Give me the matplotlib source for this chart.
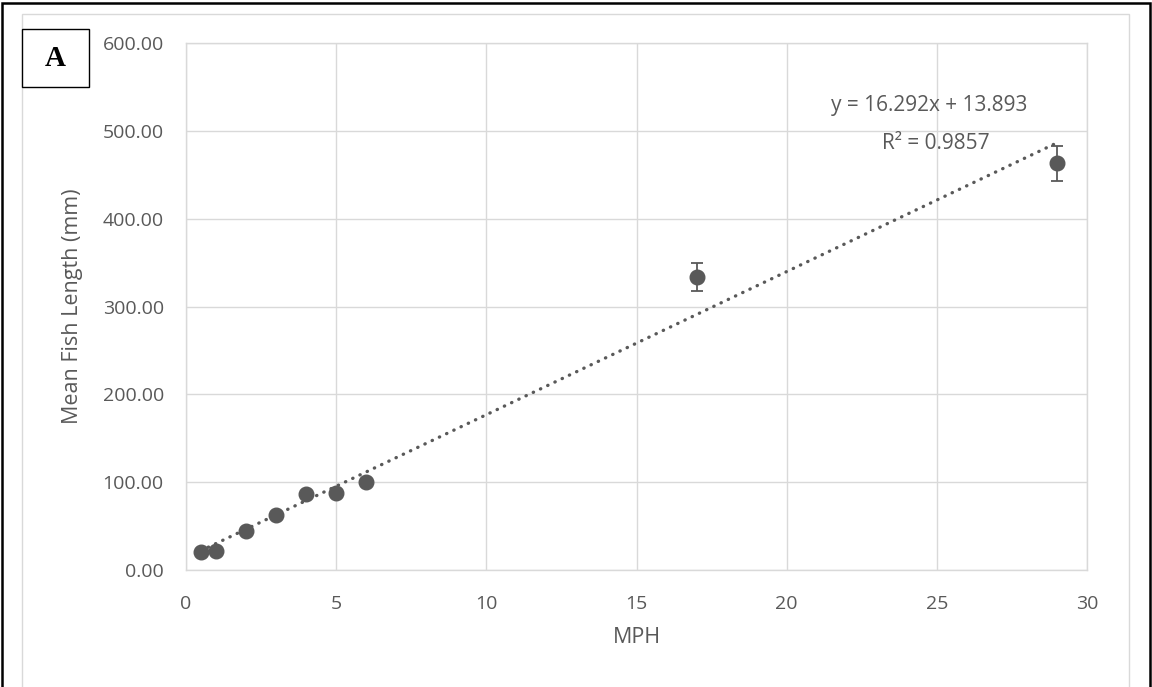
import numpy as np
import matplotlib
matplotlib.use("Agg")
import matplotlib.pyplot as plt
from matplotlib.patches import Rectangle

# data
mph = [0.5, 1, 2, 3, 4, 5, 6, 17, 29]
fish_len = [21, 22, 44, 63, 87, 88, 100, 334, 463]
fish_err = [0, 0, 0, 0, 0, 0, 0, 16, 20]
slope, intercept = 16.292, 13.893
r2 = 0.9857
x_ticks = [0, 5, 10, 15, 20, 25, 30]
y_ticks = [0, 100, 200, 300, 400, 500, 600]

W, H = 1152, 687
grey = "#595959"
grid = "#d9d9d9"
plt.rcParams["font.family"] = ["Open Sans", "DejaVu Sans"]

fig = plt.figure(figsize=(W / 100, H / 100), dpi=100)

# frames round the chart
fig.add_artist(Rectangle((1.5 / W, -0.02), 1148.5 / W, 1 - 3 / H + 0.02,
                         transform=fig.transFigure, fill=False,
                         edgecolor="black", lw=1.8))
fig.add_artist(Rectangle((22 / W, -0.02), (1129 - 22) / W, 1 - 14 / H + 0.02,
                         transform=fig.transFigure, fill=False,
                         edgecolor=grid, lw=1.0))

ax = fig.add_axes([186 / W, 1 - 570 / H, (1087 - 186) / W, (570 - 43) / H])
ax.set_xlim(0, 30)
ax.set_ylim(0, 600)
ax.set_xticks(x_ticks)
ax.set_yticks(y_ticks)
ax.yaxis.set_major_formatter(matplotlib.ticker.FormatStrFormatter("%.2f"))
ax.grid(True, color=grid, lw=1.0)
ax.set_axisbelow(True)
for s in ax.spines.values():
    s.set_color(grid)
    s.set_linewidth(1.0)
ax.tick_params(length=0, labelsize=14, labelcolor=grey)
ax.tick_params(axis="y", pad=16)
ax.tick_params(axis="x", pad=18)

# trendline over data range
tx = np.array([min(mph), max(mph)])
ax.plot(tx, slope * tx + intercept, color=grey, lw=2.4,
        linestyle=(0, (0.1, 2.3)), dash_capstyle="round", zorder=2)

ax.errorbar(mph, fish_len, yerr=fish_err, fmt="none", ecolor=grey,
            elinewidth=1.3, capsize=4.5, capthick=1.3, zorder=3)
ax.plot(mph, fish_len, "o", color=grey, ms=10.5, zorder=4)

ax.text(24.74, 529, "y = 16.292x + 13.893", ha="center", va="center",
        fontsize=15, color=grey)
ax.text(24.97, 486, "R² = %.4f" % r2, ha="center", va="center",
        fontsize=15, color=grey)

ax.set_xlabel("MPH", fontsize=15.5, color=grey)
ax.set_ylabel("Mean Fish Length (mm)", fontsize=15.5, color=grey)
ax.xaxis.set_label_coords(0.5, -0.129)
ax.xaxis.label.set_va("center")
ax.yaxis.set_label_coords(-0.1265, 0.5)
ax.yaxis.label.set_va("center")

# panel letter
fig.add_artist(Rectangle((22 / W, 1 - 87 / H), 67 / W, 58 / H,
                         transform=fig.transFigure, facecolor="white",
                         edgecolor="black", lw=1.0))
fig.text(55.5 / W, 1 - 58.5 / H, "A", ha="center", va="center",
         fontsize=21, fontweight="bold", family="Liberation Serif")

fig.savefig("out.png", dpi=100)
